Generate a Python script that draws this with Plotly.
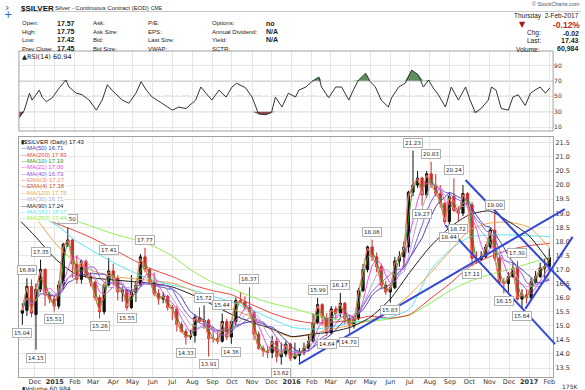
import plotly.graph_objects as go
import pandas as pd
import numpy as np

W, H = 585, 390

# ---------------- weekly price data ----------------
first_week = "2014-11-12"
opens = [15.45,15.55,16.40,15.40,16.30,17.00,16.10,15.95,15.70,16.45,
         17.90,18.05,17.20,16.65,17.30,16.75,16.55,16.00,15.50,16.45,
         16.95,16.70,16.20,16.25,15.65,16.20,16.45,17.45,17.00,16.55,
         16.15,15.95,16.05,15.65,15.60,15.05,14.80,14.60,14.65,15.30,
         15.15,15.20,14.55,14.55,14.45,15.15,14.60,15.15,15.90,15.85,
         15.65,15.50,14.70,14.20,14.10,14.05,14.45,13.90,14.00,14.35,
         13.85,13.95,14.05,14.20,14.45,15.10,15.75,15.30,14.75,15.60,
         15.45,15.80,15.25,15.00,15.25,16.25,17.00,17.80,17.45,17.10,
         16.45,16.20,16.35,17.30,17.45,17.80,19.75,20.00,20.25,19.65,
         20.40,20.00,19.70,19.35,18.70,19.60,19.10,19.00,19.70,19.30,
         17.40,17.35,17.45,17.80,18.40,17.40,16.55,16.50,16.75,17.05,
         15.95,16.10,16.00,16.55,16.75,17.05,17.10]
highs = [15.80,16.69,16.65,16.50,17.35,17.05,16.20,16.10,16.60,17.95,
         18.50,18.10,17.50,17.35,17.35,16.90,16.60,16.10,16.50,17.41,
         17.20,16.80,16.40,16.30,16.80,16.60,17.55,17.77,17.05,16.90,
         16.30,16.20,16.10,15.75,15.70,15.15,14.90,14.85,15.40,15.65,
         15.72,15.25,14.95,14.85,15.44,15.25,15.20,16.00,16.20,16.05,
         16.37,15.55,14.80,14.30,14.30,14.65,14.60,14.40,14.45,14.40,
         14.40,14.20,14.40,14.70,15.45,15.99,15.80,15.45,15.70,15.70,
         16.17,15.85,15.40,15.35,16.35,17.20,17.85,18.06,17.60,17.20,
         16.60,16.45,17.45,17.65,18.00,19.80,21.23,20.50,20.30,20.50,
         20.83,20.40,20.00,19.40,19.75,20.24,19.25,20.00,19.75,19.40,
         17.65,17.65,17.90,18.50,19.00,17.50,16.70,16.90,17.25,17.30,
         16.30,16.30,16.70,16.95,17.25,17.40,17.75]
lows = [15.04,15.35,15.30,14.15,16.20,15.70,15.80,15.51,15.60,16.30,
        17.80,16.70,16.50,16.50,16.70,16.40,15.90,15.26,15.40,16.40,
        16.45,15.90,15.85,15.55,15.60,15.85,16.40,16.90,16.50,16.05,
        15.75,15.80,15.55,15.20,14.80,14.75,14.33,14.50,14.40,15.10,
        14.90,13.91,14.40,14.35,14.40,14.50,14.36,15.00,15.80,15.55,
        15.40,14.50,14.15,13.90,13.85,13.85,13.70,13.62,13.90,13.75,
        13.80,13.70,13.95,14.10,14.40,15.05,15.00,14.64,14.70,15.20,
        15.30,15.05,14.70,14.90,15.20,16.20,16.90,17.30,16.90,16.30,
        16.10,15.83,16.30,17.10,17.10,17.60,19.60,19.90,19.27,19.55,
        19.90,19.60,19.20,18.60,18.44,19.05,18.72,18.90,19.20,17.11,
        17.20,17.30,17.40,17.75,17.30,16.50,16.15,16.20,16.70,15.90,
        15.64,15.80,15.95,16.50,16.70,16.70,16.90]
closes = [15.55,16.40,15.45,16.30,17.00,16.10,15.95,15.70,16.45,17.90,
          18.05,17.20,16.65,17.30,16.75,16.55,16.00,15.50,16.45,16.95,
          16.70,16.20,16.25,15.65,16.20,16.45,17.45,17.00,16.55,16.15,
          15.95,16.05,15.65,15.60,15.05,14.80,14.60,14.65,15.30,15.15,
          15.20,14.55,14.55,14.45,15.15,14.60,15.15,15.90,15.85,15.65,
          15.50,14.70,14.20,14.10,14.05,14.45,13.90,14.00,14.35,13.85,
          13.95,14.05,14.20,14.45,15.10,15.75,15.30,14.75,15.60,15.45,
          15.80,15.25,15.00,15.25,16.25,17.00,17.80,17.45,17.10,16.45,
          16.20,16.35,17.30,17.45,17.80,19.75,20.00,20.25,19.65,20.40,
          20.00,19.70,19.35,18.70,19.60,19.10,19.00,19.70,19.30,17.40,
          17.35,17.45,17.80,18.40,17.40,16.55,16.50,16.75,17.05,15.95,
          16.10,16.00,16.55,16.75,17.05,17.10,17.43]

# ---------------- long moving averages ----------------
ma_dates = ["2014-11-10","2014-12-01","2015-01-01","2015-02-01","2015-03-01","2015-04-01",
            "2015-05-01","2015-06-01","2015-07-01","2015-08-01","2015-09-01","2015-10-01",
            "2015-11-01","2015-12-01","2016-01-01","2016-02-01","2016-03-01","2016-04-01",
            "2016-05-01","2016-06-01","2016-07-01","2016-08-01","2016-09-01","2016-10-01",
            "2016-11-01","2016-12-01","2017-01-01","2017-02-02"]
ma250 = [19.40,19.25,19.02,18.74,18.52,18.27,18.08,17.84,17.48,16.95,16.55,16.32,16.02,15.80,
         15.63,15.43,15.27,15.16,15.15,15.25,15.38,15.80,16.25,16.58,16.82,17.00,17.22,17.44]
ma200 = [19.30,19.00,18.66,18.38,18.10,17.72,17.35,17.00,16.75,16.45,16.25,16.10,15.75,15.45,
         15.22,15.10,15.12,15.20,15.34,15.27,15.40,15.95,16.50,17.10,17.45,17.70,17.85,17.93]
ma161 = [19.10,18.90,18.62,18.05,17.65,17.25,16.92,16.62,16.45,16.28,16.05,15.85,15.55,15.25,
         14.95,14.88,14.95,15.10,15.20,15.30,15.60,16.95,17.70,18.15,18.23,18.23,18.20,18.17]
ma120 = [19.10,18.85,17.95,17.25,16.95,16.75,16.68,16.60,16.52,16.25,15.85,15.60,15.30,14.85,
         14.60,14.70,14.87,15.02,15.20,15.55,16.10,16.85,17.65,18.40,18.65,18.68,18.50,17.75]
ma90 = [18.70,18.20,17.40,16.85,16.70,16.63,16.57,16.50,16.38,16.10,15.75,15.40,15.12,14.90,
        14.62,14.70,14.78,14.95,15.30,15.95,16.90,17.80,18.50,18.95,19.08,18.70,18.20,17.24]

# ---------------- RSI(14) ----------------
rsi_dates = ["2014-11-07","2014-11-15","2014-11-23","2014-11-27","2014-12-08","2014-12-13","2014-12-19","2014-12-28","2015-01-08","2015-01-18",
             "2015-01-23","2015-02-03","2015-02-12","2015-02-23","2015-03-06","2015-03-15","2015-03-23","2015-03-30","2015-04-15","2015-04-25",
             "2015-05-06","2015-05-14","2015-05-22","2015-05-31","2015-06-15","2015-07-01","2015-07-11","2015-07-22","2015-08-06","2015-08-14",
             "2015-08-22","2015-08-31","2015-09-11","2015-09-22","2015-10-01","2015-10-08","2015-10-22","2015-11-01","2015-11-11","2015-11-22",
             "2015-12-01","2015-12-07","2015-12-17","2015-12-27","2016-01-07","2016-01-12","2016-01-23","2016-02-01","2016-02-12","2016-02-16",
             "2016-02-27","2016-03-09","2016-03-18","2016-03-29","2016-04-05","2016-04-13","2016-04-24","2016-05-01","2016-05-09","2016-05-18",
             "2016-05-29","2016-06-03","2016-06-14","2016-06-24","2016-07-04","2016-07-14","2016-07-22","2016-07-30","2016-08-06","2016-08-14",
             "2016-08-25","2016-09-03","2016-09-14","2016-09-25","2016-10-02","2016-10-10","2016-10-19","2016-10-30","2016-11-04","2016-11-11",
             "2016-11-19","2016-11-30","2016-12-07","2016-12-15","2016-12-26","2017-01-03","2017-01-10","2017-01-18","2017-01-26","2017-02-02"]
rsi_vals = [22,32,54,45,58,48,43,48,61,71, 62,54,52,45,32,45,65,58,45,41,
            54,69,58,49,41,32,36,34,45,62, 54,45,58,49,62,67,61,49,27,26,
            29,49,36,54,49,58,62,69,75,62, 48,62,62,45,58,71,80,69,62,45,
            36,48,62,67,84,78,62,71,61,52, 36,62,45,62,45,29,34,45,62,58,
            34,32,49,52,38,54,58,62,54,60.94]
rsi_levels = [30, 50, 70]

# ---------------- price labels ----------------
label_week = [1,2,4,5,8,11,18,20,24,28,37,41,42,45,47,51,58,66,68,71,73,78,82,87,89,91,95,96,97,100,105,107,110,111]
label_text = ["15.04","16.69","14.15","17.35","15.51","18.50","15.26","17.41","15.55","17.77","14.33","15.72","13.91",
              "15.44","14.36","16.37","13.62","15.99","14.64","16.17","14.70","18.06","15.83","21.23","19.27","20.83",
              "18.44","20.24","18.72","17.11","19.00","16.15","17.30","15.64"]
label_side = ["lo","hi","lo","hi","lo","hi","lo","hi","lo","hi","lo","hi","lo","hi","lo","hi","lo","hi","lo","hi","lo",
              "hi","lo","hi","lo","hi","lo","hi","lo","lo","hi","lo","hi","lo"]

# ---------------- trend lines (drawn annotations) ----------------
trend_x0 = ["2016-01-12", "2016-09-25", "2016-08-25", "2016-12-26"]
trend_y0 = [13.64, 20.18, 18.58, 15.60]
trend_x1 = ["2017-02-25", "2017-03-06", "2017-02-10", "2017-03-09"]
trend_y1 = [19.15, 16.27, 14.35, 18.16]

month_ticks = pd.date_range("2014-12-01", "2017-02-01", freq="MS")
month_text = [("<b>%d</b>" % d.year) if d.month == 1 else d.strftime("%b") for d in month_ticks]

wk_dates = pd.date_range(first_week, periods=len(closes), freq="7D")
s = pd.Series(closes)
short_ma = {
    "MA(10)": s.rolling(2, min_periods=1).mean(),
    "MA(21)": s.rolling(4, min_periods=1).mean(),
    "MA(30)": s.rolling(6, min_periods=1).mean(),
    "MA(40)": s.rolling(8, min_periods=1).mean(),
    "MA(50)": s.rolling(10, min_periods=1).mean(),
    "EMA(3)": s.ewm(alpha=0.95).mean(),
    "EMA(4)": s.ewm(alpha=0.9).mean(),
}

C = {"MA(50)": "#3b3bb8", "MA(200)": "#e8413c", "MA(10)": "#2f9a2f", "MA(21)": "#e648e6",
     "MA(40)": "#8a4ee6", "EMA(3)": "#f08a6c", "EMA(4)": "#c4502e", "MA(120)": "#f0a545",
     "MA(30)": "#a9a9cc", "MA(90)": "#1a1a1a", "MA(161)": "#55e6f0", "MA(250)": "#8ef052"}

x_start = pd.Timestamp("2014-11-06 17:00")
x_end = pd.Timestamp("2017-02-06 22:00")
px_l, px_r, px_r2 = 19, 555, 582
x2_end = x_start + (x_end - x_start) * ((px_r2 - px_l) / (px_r - px_l))
main_top, main_bot = 137, 377
rsi_top, rsi_bot = 51, 131
y_range = [13.18, 21.71]
rsi_range = [4.9, 108.8]

fig = go.Figure()

fig.add_trace(go.Candlestick(
    x=wk_dates, open=opens, high=highs, low=lows, close=closes,
    increasing=dict(line=dict(color="#111111", width=1), fillcolor="#111111"),
    decreasing=dict(line=dict(color="#d42a2a", width=1), fillcolor="#d42a2a"),
    whiskerwidth=0, showlegend=False, hoverinfo="skip", xaxis="x", yaxis="y"))

long_ma = {"MA(250)": ma250, "MA(200)": ma200, "MA(161)": ma161, "MA(120)": ma120, "MA(90)": ma90}
for name, vals in long_ma.items():
    fig.add_trace(go.Scatter(x=ma_dates, y=vals, mode="lines", line=dict(color=C[name], width=1, shape="spline", smoothing=0.6),
                             showlegend=False, hoverinfo="skip", xaxis="x", yaxis="y"))
for name in ["MA(50)", "MA(40)", "MA(30)", "MA(21)", "MA(10)", "EMA(4)", "EMA(3)"]:
    fig.add_trace(go.Scatter(x=wk_dates, y=short_ma[name], mode="lines", line=dict(color=C[name], width=1, shape="spline", smoothing=0.5),
                             showlegend=False, hoverinfo="skip", xaxis="x", yaxis="y"))

# RSI panel
rsi = np.array(rsi_vals, dtype=float)
n = len(rsi)
fig.add_trace(go.Scatter(x=rsi_dates, y=[rsi_levels[2]] * n, mode="lines", line=dict(width=0), showlegend=False,
                         hoverinfo="skip", xaxis="x", yaxis="y2"))
fig.add_trace(go.Scatter(x=rsi_dates, y=np.maximum(rsi, rsi_levels[2]), mode="lines", line=dict(width=0), fill="tonexty",
                         fillcolor="#5d8f5d", showlegend=False, hoverinfo="skip", xaxis="x", yaxis="y2"))
fig.add_trace(go.Scatter(x=rsi_dates, y=[rsi_levels[0]] * n, mode="lines", line=dict(width=0), showlegend=False,
                         hoverinfo="skip", xaxis="x", yaxis="y2"))
fig.add_trace(go.Scatter(x=rsi_dates, y=np.minimum(rsi, rsi_levels[0]), mode="lines", line=dict(width=0), fill="tonexty",
                         fillcolor="#8a4a4a", showlegend=False, hoverinfo="skip", xaxis="x", yaxis="y2"))
fig.add_trace(go.Scatter(x=rsi_dates, y=rsi, mode="lines", line=dict(color="#333333", width=1), showlegend=False,
                         hoverinfo="skip", xaxis="x", yaxis="y2"))

# trend lines on an overlapping, wider inset so they can run past the price axis
for i in range(len(trend_x0)):
    fig.add_trace(go.Scatter(x=[trend_x0[i], trend_x1[i]], y=[trend_y0[i], trend_y1[i]], mode="lines",
                             line=dict(color="#3347d6", width=2), showlegend=False, hoverinfo="skip",
                             xaxis="x2", yaxis="y3"))

for lv, dash, col in zip(rsi_levels, ["solid", "dashdot", "solid"], ["#8c8c8c", "#9a9a9a", "#8c8c8c"]):
    fig.add_shape(type="line", xref="x domain", yref="y2", x0=0, x1=1, y0=lv, y1=lv,
                  line=dict(color=col, width=1, dash=dash), layer="below")
fig.add_shape(type="rect", xref="x domain", yref="y2 domain", x0=0, x1=1, y0=0, y1=1,
              line=dict(color="#a0a0a0", width=1), layer="above")

def D(a, b):
    return [a / W, b / W]

def V(top, bot):
    return [1 - bot / H, 1 - top / H]

tickfont = dict(family="DejaVu Sans", size=6.5, color="#333333")
fig.update_layout(
    width=W, height=H, margin=dict(l=0, r=0, t=0, b=0),
    paper_bgcolor="white", plot_bgcolor="rgba(0,0,0,0)",
    showlegend=False,
    xaxis=dict(domain=D(px_l, px_r), anchor="y", range=[x_start, x_end], type="date",
               tickvals=month_ticks, ticktext=month_text, tickfont=tickfont, ticks="", ticklabelstandoff=-2,
               showgrid=True, gridcolor="#e6e6e6", gridwidth=1, showline=True, mirror=True,
               linecolor="#a0a0a0", linewidth=1, rangeslider=dict(visible=False), zeroline=False),
    yaxis=dict(domain=V(main_top, main_bot), anchor="x", side="right", range=y_range, dtick=0.5, tick0=13.5,
               tickformat=".1f", tickfont=tickfont, ticks="", showgrid=True, gridcolor="#e6e6e6",
               showline=True, mirror=True, linecolor="#a0a0a0", zeroline=False),
    yaxis2=dict(domain=V(rsi_top, rsi_bot), anchor="x", side="right", range=rsi_range,
                tickvals=[10, 30, 50, 70, 90], tickfont=dict(family="DejaVu Sans", size=6, color="#333333"),
                ticks="", showgrid=True, gridcolor="#e6e6e6", showline=False, zeroline=False),
    xaxis2=dict(domain=D(px_l, px_r2), anchor="y3", range=[x_start, x2_end], type="date", visible=False,
                showgrid=False),
    yaxis3=dict(domain=V(main_top, main_bot), anchor="x2", range=y_range, visible=False, showgrid=False),
)

# price labels
for wk, t, side in zip(label_week, label_text, label_side):
    yv = float(t)
    fig.add_annotation(x=wk_dates[wk - 1], y=yv, xref="x", yref="y", text=t, showarrow=False,
                       yanchor="bottom" if side == "hi" else "top", yshift=3 if side == "hi" else -3,
                       font=dict(family="DejaVu Sans", size=5.5, color="#222222"),
                       bgcolor="white", bordercolor="#b0b0b0", borderwidth=1, borderpad=1)

def txt(x, y, s, size=7, color="#222222", anchor="left", family="Liberation Sans", bg=None):
    fig.add_annotation(xref="paper", yref="paper", x=x / W, y=1 - y / H, text=s, showarrow=False,
                       xanchor=anchor, yanchor="middle", font=dict(family=family, size=size, color=color),
                       bgcolor=bg, borderpad=0)

# legend of main panel
legend_rows = [("$SILVER (Daily) 17.43", "#111111", None), ("MA(50) 16.71", C["MA(50)"], 1),
               ("MA(200) 17.93", C["MA(200)"], 1), ("MA(10) 17.19", C["MA(10)"], 1),
               ("MA(21) 17.00", C["MA(21)"], 1), ("MA(40) 16.73", C["MA(40)"], 1),
               ("EMA(3) 17.27", C["EMA(3)"], 1), ("EMA(4) 17.38", C["EMA(4)"], 1),
               ("MA(120) 17.75", C["MA(120)"], 1), ("MA(30) 16.71", C["MA(30)"], 1),
               ("MA(90) 17.24", C["MA(90)"], 1), ("MA(161) 18.17", C["MA(161)"], 1),
               ("MA(250) 17.44", C["MA(250)"], 1)]
for i, (t, col, dash) in enumerate(legend_rows):
    prefix = "▮" if dash is None else "—"
    txt(20, 142 + i * 6.35, prefix + t, size=6, color=col, family="Liberation Sans", bg="white")

txt(21, 57, "▲RSI(14) 60.94", size=6.5, color="#222222", family="DejaVu Sans")
txt(21, 388, "▮Volume 60,984", size=6, color="#222222", family="DejaVu Sans")
txt(581, 386, "175K", size=6, color="#333333", anchor="right", family="DejaVu Sans")

# header
txt(4, 7, "›", size=11, color="#2c62c8", family="DejaVu Sans")
txt(3, 15, "+", size=10, color="#2c62c8", family="DejaVu Sans")
txt(20, 8, "<b>$SILVER</b>", size=8, color="#111111")
txt(54, 8, "Silver - Continuous Contract (EOD)", size=6, color="#222222")
txt(151, 8, "CME", size=5, color="#222222")
txt(583, 4, "© StockCharts.com", size=5.5, color="#555555", anchor="right")

rows_y = [23, 31.5, 40, 48.5]
col1 = ["Open:", "High:", "Low:", "Prev Close:"]
col1v = ["17.57", "17.75", "17.42", "17.45"]
col2 = ["Ask:", "Ask Size:", "Bid:", "Bid Size:"]
col3 = ["P/E:", "EPS:", "Last Size:", "VWAP:"]
col4 = ["Options:", "Annual Dividend:", "Yield:", "SCTR:"]
col4v = ["no", "N/A", "N/A", ""]
for i, yy in enumerate(rows_y):
    txt(21, yy, col1[i], size=6)
    txt(76, yy, "<b>%s</b>" % col1v[i], size=7, anchor="right")
    txt(92, yy, col2[i], size=6)
    txt(148, yy, col3[i], size=6)
    txt(212, yy, col4[i], size=6)
    if col4v[i]:
        txt(266, yy, "<b>%s</b>" % col4v[i], size=7)

txt(582, 16, "Thursday  2-Feb-2017", size=6.5, anchor="right")
txt(520, 24.5, "▼", size=8, color="#a01818", family="DejaVu Sans")
txt(583, 24.5, "<b>-0.12%</b>", size=8.5, color="#c0282a", anchor="right")
txt(528, 33, "Chg:", size=6.5)
txt(582, 33, "<b>-0.02</b>", size=7, anchor="right")
txt(528, 41, "Last:", size=6.5)
txt(582, 41, "<b>17.43</b>", size=7, anchor="right")
txt(517, 49, "Volume:", size=6.5)
txt(582, 49, "<b>60,984</b>", size=7, anchor="right")

fig.add_shape(type="line", xref="paper", yref="paper", x0=20 / W, x1=583 / W, y0=1 - 11.5 / H, y1=1 - 11.5 / H,
              line=dict(color="#c8c8c8", width=1))

fig.write_html("out.html", config={"displayModeBar": False},
               post_script="document.body.style.margin='0px';document.body.style.overflow='hidden';")
